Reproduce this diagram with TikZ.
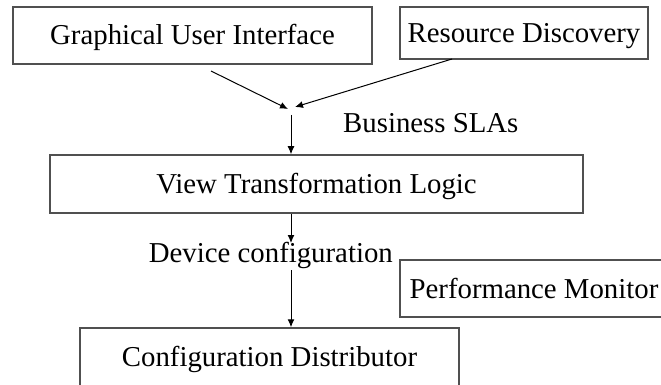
\documentclass[tikz,border=0pt]{standalone}
\usepackage{fontspec}
\setmainfont{Liberation Serif}
\usetikzlibrary{arrows.meta}
\definecolor{boxgray}{HTML}{505050}
\begin{document}
\begin{tikzpicture}[x=1pt,y=-1pt,
  txt/.style={font=\fontsize{28.8}{34}\selectfont},
  box/.style={txt, draw=boxgray, line width=1.5pt, inner sep=0pt,
    text height=19pt, text depth=0pt},
  lbl/.style={txt, inner sep=0pt},
  flow/.style={-{Latex[length=8pt,width=7pt]}, line width=1pt}]
\clip (0,0) rectangle (661,385);

% component boxes
\node[box, minimum width=359pt, minimum height=57pt] (gui) at (192.5,35.5) {Graphical User Interface};
\node[box, minimum width=248pt, minimum height=52pt] (rd) at (524,33) {Resource Discovery};
\node[box, minimum width=533pt, minimum height=58pt] (vtl) at (316.5,184) {View Transformation Logic};
\node[box, minimum width=268pt, minimum height=57pt] (pm) at (534,288.5) {Performance Monitor};
\node[box, minimum width=379pt, minimum height=58pt] (cd) at (269.5,357) {Configuration Distributor};

% labels on the flow
\node[lbl, anchor=base west] (sla) at (343,132) {Business SLAs};
\node[lbl, anchor=base east] (dev) at (393,262) {Device configuration};

% connector end points
\coordinate (guiout) at (211,71);
\coordinate (rdout) at (452,59);
\coordinate (joinL) at (288,109);
\coordinate (joinR) at (295,107);
\coordinate (slaout) at (291,115);
\coordinate (devin) at (291,243);
\coordinate (devout) at (291,270);

% connectors
\draw[flow] (guiout) -- (joinL);
\draw[flow] (rdout) -- (joinR);
\draw[flow] (slaout) -- (slaout |- vtl.north);
\draw[flow] (devin |- vtl.south) -- (devin);
\draw[flow] (devout) -- (devout |- cd.north);
\end{tikzpicture}
\end{document}
